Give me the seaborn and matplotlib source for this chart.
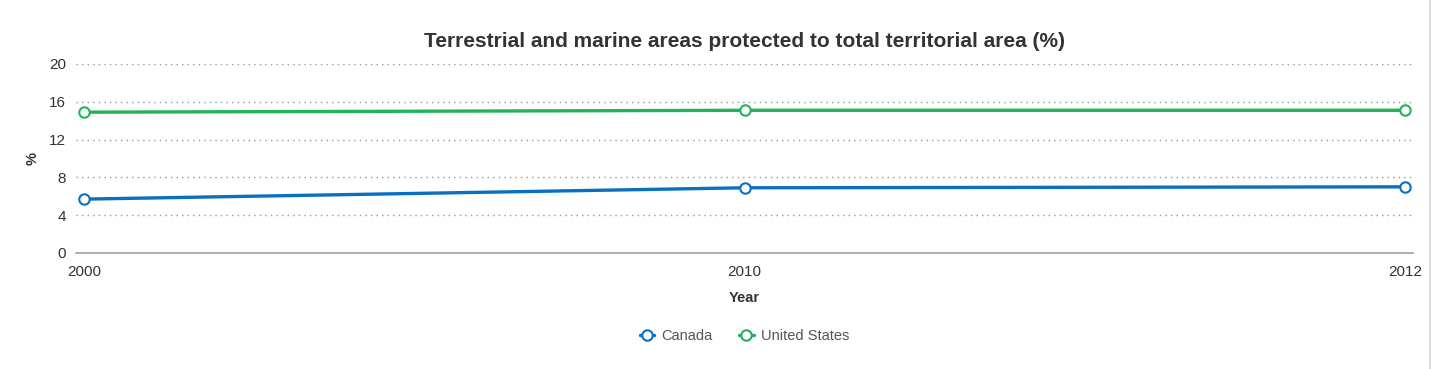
import pandas as pd
import seaborn as sns
import matplotlib.pyplot as plt

# data
years = ['2000', '2010', '2012']
canada = [5.7, 6.9, 7.0]
united_states = [14.9, 15.1, 15.1]

df = pd.DataFrame({
    'Year': years * 2,
    'Value': canada + united_states,
    'Country': ['Canada'] * 3 + ['United States'] * 3,
})

sns.set_style('white')
plt.rcParams['font.family'] = ['Liberation Sans', 'DejaVu Sans']

palette = {'Canada': '#0b6fbf', 'United States': '#21b25a'}

fig = plt.figure(figsize=(14.38, 3.69), dpi=100)
ax = fig.add_axes([0.0529, 0.3144, 0.9297, 0.5122])

sns.lineplot(data=df, x='Year', y='Value', hue='Country', palette=palette,
             marker='o', markersize=7.5, markerfacecolor='white',
             markeredgewidth=1.5, linewidth=2.4, sort=False, ax=ax)

# white fill but coloured edges for markers
for line in ax.get_lines():
    line.set_markeredgecolor(line.get_color())

ax.set_xlim(-0.012, 2.012)
ax.set_ylim(0, 20)
ax.set_yticks([0, 4, 8, 12, 16, 20])
ax.yaxis.grid(True, linestyle=(0, (1, 3)), color='#999999', linewidth=1)
ax.xaxis.grid(False)
for s in ['top', 'right', 'left']:
    ax.spines[s].set_visible(False)
ax.spines['bottom'].set_color('#a0a0a0')
ax.spines['bottom'].set_linewidth(1.2)
ax.tick_params(axis='both', length=0, labelsize=11, colors='#333333')
ax.tick_params(axis='y', pad=7)
ax.tick_params(axis='x', pad=9)

ax.set_title('Terrestrial and marine areas protected to total territorial area (%)',
             fontsize=15, fontweight='bold', color='#333333', pad=12)
ax.set_xlabel('Year', fontsize=10.5, fontweight='bold', color='#333333', labelpad=8)
ax.set_ylabel('%', fontsize=10.5, fontweight='bold', color='#333333', labelpad=7)

handles, labels = ax.get_legend_handles_labels()
for h in handles:
    h.set_markerfacecolor('white')
    h.set_markeredgecolor(h.get_color())
leg = ax.legend(handles, labels, loc='upper center', bbox_to_anchor=(0.5, -0.335),
                ncol=2, frameon=False, fontsize=10.5, handlelength=1.0,
                columnspacing=1.8, handletextpad=0.5)
for t in leg.get_texts():
    t.set_color('#555555')

fig.add_artist(plt.Line2D([0.9944, 0.9944], [0, 1], color='#dddddd', linewidth=1.5))

plt.savefig('out.png', dpi=100)
